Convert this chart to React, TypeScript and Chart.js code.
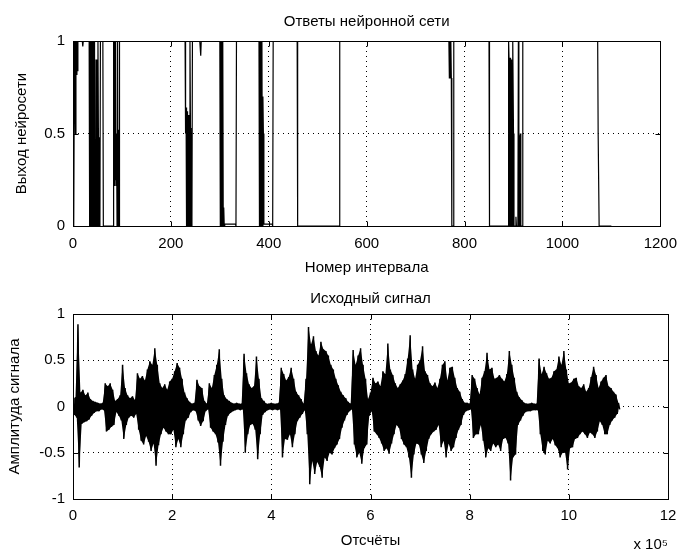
import React, { useEffect, useRef } from 'react';
import { Chart, registerables } from 'chart.js';

Chart.register(...registerables);

const FONT_FAMILY = "'Liberation Sans', Arial, sans-serif";
const FONT_SIZE = 15;

// ---------- Top chart: neural network responses ----------
const respTitle = 'Ответы нейронной сети';
const respXLabel = 'Номер интервала';
const respYLabel = 'Выход нейросети';
const respXTicks = [0, 200, 400, 600, 800, 1000, 1200];
const respXTickLabels = ['0', '200', '400', '600', '800', '1000', '1200'];
const respYTicks = [0, 0.5, 1];
const respYTickLabels = ['0', '0.5', '1'];

const respX = [
  0, 1, 2, 3, 4, 5, 6, 7, 8, 9, 10,
  19, 20, 21,
  33, 34, 35, 36, 37, 38, 39, 40, 41, 42, 43, 44,
  45, 46, 47, 48, 49, 50, 51, 52, 53, 54, 55,
  56, 61, 62,
  82, 83, 84, 85, 86, 87, 88,
  89, 90, 91, 92, 93, 94, 95,
  229, 230, 231, 232, 233, 234, 235, 236, 237, 238, 239, 240, 241, 242, 243, 244,
  259, 261, 262,
  300, 301, 302, 303, 304, 305, 306, 307, 308, 309, 310, 332, 333, 334,
  380, 381, 382, 383, 384, 385, 386, 387, 388, 389, 390, 407, 408, 409,
  458, 459, 544, 545,
  768, 769, 770, 771, 772, 773, 774, 777, 778,
  850, 851,
  889, 890, 891, 892, 893, 894, 895, 896, 897, 898, 899, 900, 901, 904, 905, 906, 909, 910, 911, 912, 913, 914, 915, 918, 919,
  1072, 1073, 1074, 1075, 1100,
];
const respY = [
  1, 0.83, 0, 1, 0.85, 0.5, 1, 0.82, 1, 0.84, 1,
  1, 0.97, 1,
  1, 0, 1, 0, 1, 0, 1, 0, 1, 0, 1, 0,
  0.47, 0, 0.9, 0, 0.46, 0, 1, 0.45, 0, 0.48, 0,
  1, 1, 0,
  0, 1, 0.22, 1, 0.25, 1, 0.22,
  0.5, 0, 1, 0, 0.52, 0, 1,
  1, 0.5, 0.64, 0, 0.62, 0, 0.6, 0, 0.53, 0, 1, 0.53, 0, 0.5, 0, 1,
  1, 0.92, 1,
  1, 0, 1, 0, 1, 0, 1, 0, 0.1, 0, 0.01, 0.01, 0, 1,
  1, 0, 1, 0, 1, 0, 1, 0, 0.7, 0.5, 0.01, 0.01, 0, 1,
  1, 0, 0, 1,
  1, 0.8, 1, 0.8, 1, 0.8, 0, 0, 1,
  1, 0,
  0, 1, 0.9, 0, 0.91, 0, 0.9, 0, 0.88, 0, 1, 0.5, 0, 0, 0.05, 0, 0, 1, 0, 0.49, 0, 0.5, 0, 0, 1,
  1, 0.5, 0.5, 0, 0,
];

// ---------- Bottom chart: source signal ----------
const sigTitle = 'Исходный сигнал';
const sigXLabel = 'Отсчёты';
const sigYLabel = 'Амплитуда сигнала';
const sigExponentLabel = 'x 10⁵';
const sigXTicks = [0, 200000, 400000, 600000, 800000, 1000000, 1200000];
const sigXTickLabels = ['0', '2', '4', '6', '8', '10', '12'];
const sigYTicks = [-1, -0.5, 0, 0.5, 1];
const sigYTickLabels = ['-1', '-0.5', '0', '0.5', '1'];
const sigStep = 5000; // samples between envelope readings

const sigUpper = [
  0.08, 0.10, 0.89, 0.15, 0.18, 0.12, 0.15, 0.08, 0.06, 0.05,
  0.04, 0.03, 0.04, 0.25, 0.22, 0.25, 0.18, 0.06, 0.08, 0.12,
  0.45, 0.20, 0.12, 0.09, 0.11, 0.07, 0.36, 0.30, 0.33, 0.28,
  0.40, 0.49, 0.45, 0.63, 0.45, 0.25, 0.20, 0.24, 0.18, 0.27,
  0.30, 0.38, 0.47, 0.42, 0.30, 0.15, 0.09, 0.05, 0.03, 0.04,
  0.29, 0.22, 0.20, 0.06, 0.03, 0.25, 0.20, 0.34, 0.45, 0.62,
  0.30, 0.12, 0.08, 0.06, 0.04, 0.03, 0.04, 0.03, 0.03, 0.57,
  0.36, 0.24, 0.20, 0.22, 0.54, 0.30, 0.09, 0.06, 0.03, 0.03,
  0.04, 0.03, 0.03, 0.04, 0.42, 0.35, 0.28, 0.32, 0.42, 0.30,
  0.16, 0.12, 0.08, 0.03, 0.30, 0.86, 0.67, 0.76, 0.60, 0.55,
  0.70, 0.62, 0.60, 0.55, 0.45, 0.40, 0.30, 0.23, 0.16, 0.12,
  0.09, 0.05, 0.03, 0.61, 0.45, 0.55, 0.63, 0.45, 0.30, 0.08,
  0.15, 0.31, 0.25, 0.27, 0.22, 0.38, 0.35, 0.68, 0.40, 0.34,
  0.25, 0.20, 0.24, 0.28, 0.35, 0.52, 0.77, 0.40, 0.30, 0.45,
  0.50, 0.65, 0.38, 0.34, 0.25, 0.22, 0.26, 0.20, 0.30, 0.45,
  0.49, 0.28, 0.42, 0.43, 0.31, 0.20, 0.16, 0.08, 0.04, 0.04,
  0.03, 0.34, 0.30, 0.20, 0.13, 0.31, 0.38, 0.58, 0.40, 0.42,
  0.30, 0.31, 0.34, 0.30, 0.27, 0.35, 0.60, 0.45, 0.31, 0.16,
  0.10, 0.07, 0.04, 0.03, 0.03, 0.04, 0.03, 0.03, 0.52, 0.35,
  0.43, 0.36, 0.30, 0.31, 0.38, 0.40, 0.54, 0.45, 0.60, 0.40,
  0.25, 0.26, 0.30, 0.31, 0.22, 0.20, 0.24, 0.16, 0.20, 0.32,
  0.43, 0.34, 0.20, 0.27, 0.31, 0.34, 0.22, 0.20, 0.16, 0.13,
  0.04,
];
const sigLower = [
  -0.09, -0.12, -0.66, -0.19, -0.17, -0.16, -0.14, -0.10, -0.07, -0.05,
  -0.05, -0.03, -0.04, -0.27, -0.25, -0.22, -0.20, -0.06, -0.10, -0.15,
  -0.35, -0.20, -0.12, -0.10, -0.12, -0.08, -0.25, -0.37, -0.41, -0.32,
  -0.38, -0.48, -0.40, -0.64, -0.42, -0.30, -0.23, -0.27, -0.30, -0.30,
  -0.25, -0.44, -0.35, -0.44, -0.30, -0.15, -0.12, -0.06, -0.04, -0.05,
  -0.15, -0.21, -0.16, -0.05, -0.03, -0.23, -0.27, -0.30, -0.39, -0.64,
  -0.38, -0.20, -0.10, -0.07, -0.05, -0.04, -0.03, -0.04, -0.03, -0.50,
  -0.30, -0.20, -0.19, -0.25, -0.57, -0.30, -0.09, -0.06, -0.04, -0.03,
  -0.04, -0.03, -0.04, -0.03, -0.55, -0.35, -0.36, -0.30, -0.44, -0.30,
  -0.16, -0.12, -0.08, -0.04, -0.30, -0.84, -0.59, -0.73, -0.60, -0.65,
  -0.77, -0.55, -0.59, -0.50, -0.52, -0.45, -0.41, -0.35, -0.23, -0.15,
  -0.09, -0.05, -0.03, -0.41, -0.55, -0.50, -0.62, -0.45, -0.41, -0.10,
  -0.05, -0.27, -0.30, -0.34, -0.40, -0.48, -0.45, -0.51, -0.40, -0.30,
  -0.20, -0.23, -0.35, -0.41, -0.44, -0.55, -0.77, -0.52, -0.40, -0.41,
  -0.52, -0.61, -0.48, -0.35, -0.30, -0.27, -0.25, -0.20, -0.44, -0.37,
  -0.55, -0.40, -0.48, -0.44, -0.34, -0.25, -0.20, -0.09, -0.05, -0.04,
  -0.03, -0.34, -0.30, -0.30, -0.20, -0.37, -0.55, -0.45, -0.48, -0.40,
  -0.44, -0.41, -0.48, -0.35, -0.34, -0.40, -0.80, -0.55, -0.52, -0.20,
  -0.15, -0.10, -0.06, -0.05, -0.05, -0.04, -0.04, -0.04, -0.30, -0.48,
  -0.52, -0.37, -0.40, -0.35, -0.42, -0.45, -0.55, -0.50, -0.50, -0.68,
  -0.45, -0.44, -0.35, -0.34, -0.30, -0.27, -0.30, -0.34, -0.28, -0.30,
  -0.34, -0.27, -0.16, -0.20, -0.30, -0.30, -0.20, -0.15, -0.12, -0.08,
  -0.03,
];

const font = { family: FONT_FAMILY, size: FONT_SIZE, weight: 'normal' as const };

const matlabBox = {
  id: 'matlabBox',
  afterDraw(chart: any) {
    const { ctx, chartArea: a } = chart;
    const xs = chart.scales.x;
    const ys = chart.scales.y;
    const L = Math.round(a.left) + 0.5;
    const R = Math.round(a.right) + 0.5;
    const T = Math.round(a.top) + 0.5;
    const B = Math.round(a.bottom) + 0.5;
    const tl = 5;
    ctx.save();
    ctx.strokeStyle = '#000';
    ctx.lineWidth = 1;
    ctx.setLineDash([]);
    ctx.beginPath();
    xs.ticks.forEach((t: any) => {
      const p = Math.round(xs.getPixelForValue(t.value)) + 0.5;
      ctx.moveTo(p, B);
      ctx.lineTo(p, B - tl);
      ctx.moveTo(p, T);
      ctx.lineTo(p, T + tl);
    });
    ys.ticks.forEach((t: any) => {
      const p = Math.round(ys.getPixelForValue(t.value)) + 0.5;
      ctx.moveTo(L, p);
      ctx.lineTo(L + tl, p);
      ctx.moveTo(R, p);
      ctx.lineTo(R - tl, p);
    });
    ctx.stroke();
    ctx.strokeRect(L, T, R - L, B - T);
    ctx.restore();
  },
};

function gridStyle() {
  return {
    grid: { color: '#000', lineWidth: 1, drawTicks: false },
    border: { display: false, dash: [1, 4] },
  };
}

function labelFrom(values: number[], labels: string[]) {
  return (v: number) => {
    const i = values.findIndex((t) => Math.abs(t - v) < 1e-9);
    return i >= 0 ? labels[i] : '';
  };
}

function topConfig(): any {
  return {
    type: 'line',
    data: {
      datasets: [
        {
          data: respX.map((x, i) => ({ x, y: respY[i] })),
          borderColor: '#000',
          borderWidth: 1.2,
          pointRadius: 0,
          fill: false,
          tension: 0,
        },
      ],
    },
    options: {
      animation: false,
      responsive: false,
      devicePixelRatio: 1,
      layout: { padding: { left: 0, right: 18, top: 0, bottom: 0 } },
      plugins: {
        legend: { display: false },
        tooltip: { enabled: false },
        title: {
          display: true,
          text: respTitle,
          color: '#000',
          font,
          fullSize: false,
          padding: { top: 13, bottom: 10 },
        },
      },
      scales: {
        x: {
          type: 'linear',
          min: 0,
          max: 1200,
          afterBuildTicks: (s: any) => {
            s.ticks = respXTicks.map((v) => ({ value: v }));
          },
          ticks: {
            color: '#000',
            font,
            padding: 9,
            maxRotation: 0,
            autoSkip: false,
            callback: labelFrom(respXTicks, respXTickLabels),
          },
          ...gridStyle(),
          title: { display: true, text: respXLabel, color: '#000', font, padding: { top: 0, bottom: 0 } },
          afterFit: (s: any) => {
            s.height = 51;
          },
        },
        y: {
          type: 'linear',
          min: 0,
          max: 1,
          afterBuildTicks: (s: any) => {
            s.ticks = respYTicks.map((v) => ({ value: v }));
          },
          ticks: { color: '#000', font, padding: 8, callback: labelFrom(respYTicks, respYTickLabels) },
          ...gridStyle(),
          title: { display: true, text: respYLabel, color: '#000', font, padding: { top: 13, bottom: 0 } },
          afterFit: (s: any) => {
            s.width = 73;
          },
        },
      },
    },
    plugins: [matlabBox],
  };
}

function bottomConfig(): any {
  const zig: { x: number; y: number }[] = [];
  const upPts: { x: number; y: number }[] = [];
  const loPts: { x: number; y: number }[] = [];
  sigUpper.forEach((u, k) => {
    zig.push({ x: k * sigStep, y: u });
    zig.push({ x: k * sigStep + sigStep / 2, y: sigLower[k] });
    upPts.push({ x: k * sigStep, y: u });
    loPts.push({ x: k * sigStep + sigStep / 2, y: sigLower[k] });
  });
  return {
    type: 'line',
    data: {
      datasets: [
        {
          data: upPts,
          borderWidth: 0,
          borderColor: 'rgba(0,0,0,0)',
          backgroundColor: '#000',
          pointRadius: 0,
          fill: '+1',
          tension: 0,
        },
        {
          data: loPts,
          borderWidth: 0,
          borderColor: 'rgba(0,0,0,0)',
          pointRadius: 0,
          fill: false,
          tension: 0,
        },
        {
          data: zig,
          borderColor: '#000',
          borderWidth: 1.5,
          borderJoinStyle: 'bevel',
          pointRadius: 0,
          fill: false,
          tension: 0,
        },
      ],
    },
    options: {
      animation: false,
      responsive: false,
      devicePixelRatio: 1,
      layout: { padding: { left: 0, right: 18, top: 0, bottom: 0 } },
      plugins: {
        legend: { display: false },
        tooltip: { enabled: false },
        filler: { propagate: false },
        title: {
          display: true,
          text: sigTitle,
          color: '#000',
          font,
          fullSize: false,
          padding: { top: 13, bottom: 6 },
        },
      },
      scales: {
        x: {
          type: 'linear',
          min: 0,
          max: 1200000,
          afterBuildTicks: (s: any) => {
            s.ticks = sigXTicks.map((v) => ({ value: v }));
          },
          ticks: {
            color: '#000',
            font,
            padding: 8,
            maxRotation: 0,
            autoSkip: false,
            callback: labelFrom(sigXTicks, sigXTickLabels),
          },
          ...gridStyle(),
          title: { display: true, text: sigXLabel, color: '#000', font, padding: { top: 0, bottom: 4 } },
          afterFit: (s: any) => {
            s.height = 55;
          },
        },
        x2: {
          type: 'linear',
          position: 'bottom',
          weight: 1,
          ticks: { display: false },
          grid: { display: false, drawTicks: false },
          border: { display: false },
          title: {
            display: true,
            text: sigExponentLabel,
            align: 'end',
            color: '#000',
            font,
            padding: { top: 0, bottom: 0 },
          },
          afterFit: (s: any) => {
            s.height = 0;
          },
        },
        y: {
          type: 'linear',
          min: -1,
          max: 1,
          afterBuildTicks: (s: any) => {
            s.ticks = sigYTicks.map((v) => ({ value: v }));
          },
          ticks: { color: '#000', font, padding: 8, callback: labelFrom(sigYTicks, sigYTickLabels) },
          ...gridStyle(),
          title: { display: true, text: sigYLabel, color: '#000', font, padding: { top: 6, bottom: 0 } },
          afterFit: (s: any) => {
            s.width = 73;
          },
        },
      },
    },
    plugins: [matlabBox],
  };
}

export default function App() {
  const topRef = useRef<HTMLCanvasElement>(null);
  const botRef = useRef<HTMLCanvasElement>(null);

  useEffect(() => {
    const c1 = new Chart(topRef.current as HTMLCanvasElement, topConfig());
    const c2 = new Chart(botRef.current as HTMLCanvasElement, bottomConfig());
    return () => {
      c1.destroy();
      c2.destroy();
    };
  }, []);

  return (
    <div
      style={{
        position: 'absolute',
        left: 0,
        top: 0,
        width: 686,
        height: 554,
        background: '#fff',
      }}
    >
      <canvas ref={topRef} width={686} height={277} style={{ display: 'block', width: 686, height: 277 }} />
      <canvas ref={botRef} width={686} height={277} style={{ display: 'block', width: 686, height: 277 }} />
    </div>
  );
}
